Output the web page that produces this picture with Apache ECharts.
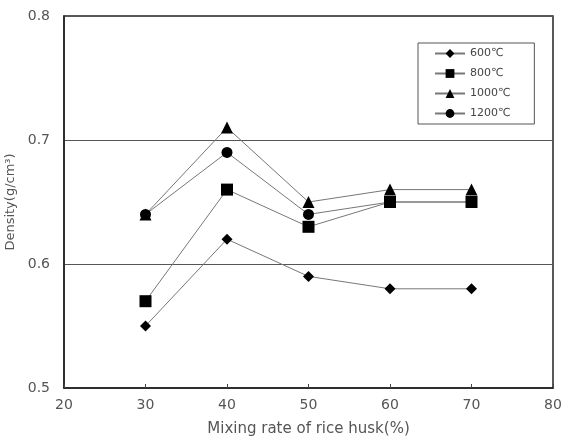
<!DOCTYPE html>
<html>
<head>
<meta charset="utf-8">
<script src="https://cdn.jsdelivr.net/npm/echarts@6/dist/echarts.min.js"></script>
<style>
  html, body { margin: 0; padding: 0; background: #fff; }
  #main { width: 575px; height: 442px; }
</style>
</head>
<body>
<div id="main"></div>
<script>
// 혼합률 (x축)
var mixRate = [30, 40, 50, 60, 70];
// 소성온도별 밀도
var d600 = [0.55, 0.62, 0.59, 0.58, 0.58];
var d800 = [0.57, 0.66, 0.63, 0.65, 0.65];
var d1000 = [0.64, 0.71, 0.65, 0.66, 0.66];
var d1200 = [0.64, 0.69, 0.64, 0.65, 0.65];
var names = ['600℃', '800℃', '1000℃', '1200℃'];

function pairs(ys) {
  return mixRate.map(function (x, i) { return [x, ys[i]]; });
}

function line(name, ys, symbol, size) {
  return {
    name: name,
    type: 'line',
    data: pairs(ys),
    symbol: symbol,
    symbolSize: size,
    lineStyle: { color: '#777', width: 1 },
    itemStyle: { color: '#000' },
    emphasis: { disabled: true },
    animation: false
  };
}

var myChart = echarts.init(document.getElementById('main'));
var txt = { color: '#555', fontSize: 14, fontFamily: 'DejaVu Sans' };

var option = {
  backgroundColor: '#fff',
  grid: {
    left: 64, right: 22, top: 16, bottom: 54,
    outerBoundsMode: 'none',
    containLabel: false,
    show: true, borderColor: '#222', borderWidth: 1.5
  },
  legend: {
    data: names,
    orient: 'vertical',
    left: 418, top: 43,
    itemGap: 9,
    itemWidth: 30, itemHeight: 11,
    padding: [5, 24, 5, 16],
    borderColor: '#555', borderWidth: 1,
    textStyle: { color: '#444', fontSize: 11, fontFamily: 'DejaVu Sans' }
  },
  xAxis: {
    type: 'value',
    min: 20, max: 80, interval: 10,
    name: 'Mixing rate of rice husk(%)',
    nameLocation: 'middle', nameGap: 34,
    nameTextStyle: { color: '#555', fontSize: 15, fontFamily: 'DejaVu Sans' },
    axisLine: { lineStyle: { color: '#222', width: 1.5 } },
    axisTick: { inside: true, length: 4, lineStyle: { color: '#444' } },
    axisLabel: Object.assign({ margin: 10 }, txt),
    splitLine: { show: false }
  },
  yAxis: {
    type: 'value',
    min: 0.5, max: 0.8, interval: 0.1,
    name: 'Density(g/cm³)',
    nameLocation: 'middle', nameGap: 42,
    nameTextStyle: { color: '#555', fontSize: 13, fontFamily: 'DejaVu Sans' },
    axisLine: { lineStyle: { color: '#222', width: 1.5 } },
    axisTick: { show: false },
    axisLabel: Object.assign({ formatter: function (v) { return v.toFixed(1); }, margin: 14 }, txt),
    splitLine: { lineStyle: { color: '#555', width: 1 } }
  },
  series: [
    line(names[0], d600, 'diamond', 11),
    line(names[1], d800, 'rect', 12),
    line(names[2], d1000, 'triangle', 12),
    line(names[3], d1200, 'circle', 11)
  ]
};

myChart.setOption(option);
</script>
</body>
</html>
